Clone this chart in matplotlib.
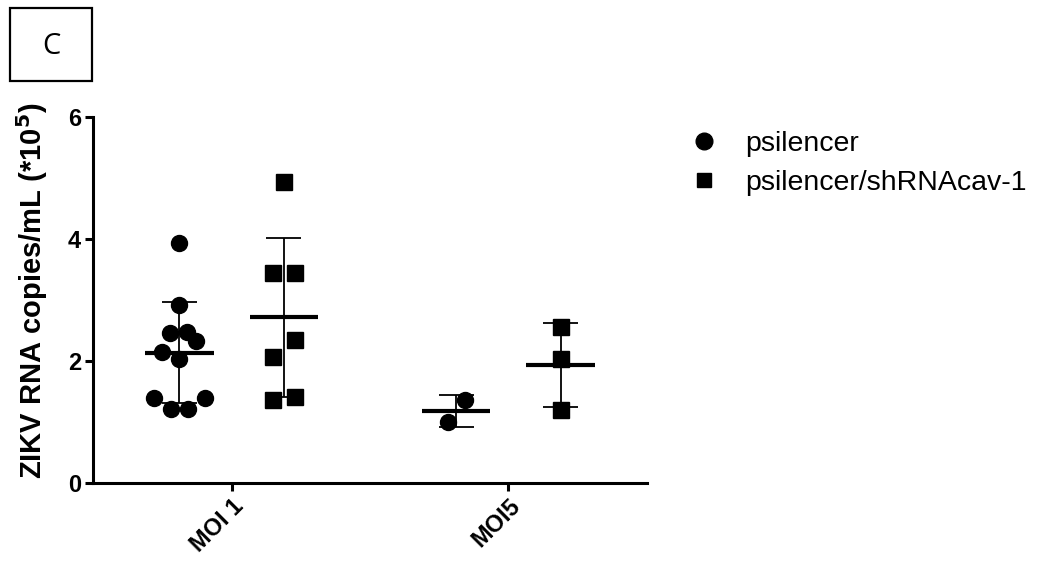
import numpy as np
import matplotlib
matplotlib.use("Agg")
import matplotlib.pyplot as plt
from matplotlib.lines import Line2D
from matplotlib.patches import Rectangle

plt.rcParams['font.family'] = ['Liberation Sans', 'DejaVu Sans']

# data (ZIKV RNA copies/mL, x10^5)
groups = ["MOI 1", "MOI5"]
series = ["psilencer", "psilencer/shRNAcav-1"]
psilencer_moi1 = [3.93, 2.91, 2.46, 2.48, 2.32, 2.14, 2.03, 1.39, 1.40, 1.22, 1.22]
psilencer_moi5 = [1.36, 1.00]
shrna_moi1 = [4.94, 3.45, 3.45, 2.34, 2.07, 1.36, 1.41]
shrna_moi5 = [2.56, 2.04, 1.20]
values = {
    "psilencer": [psilencer_moi1, psilencer_moi5],
    "psilencer/shRNAcav-1": [shrna_moi1, shrna_moi5],
}
markers = {"psilencer": "o", "psilencer/shRNAcav-1": "s"}
y_ticks = [0, 2, 4, 6]

W, H, DPI = 1043, 564, 100
fig = plt.figure(figsize=(W / DPI, H / DPI), dpi=DPI)
ax = fig.add_axes([0.0892, 0.1436, 0.5311, 0.6490])
ax.set_xlim(-0.5, 1.5)
ax.set_ylim(0, 6)

# pixel scales, used to lay the points out as a swarm
x_px = ax.get_position().width * W / 2.0
y_px = ax.get_position().height * H / 6.0


def swarm(vals, min_gap, clear):
    # rows of nearby values, spread each row symmetrically (lowest in the middle),
    # widen / shift a row until it does not overlap points already placed
    order = np.argsort(vals, kind="stable")
    v = np.asarray(vals, dtype=float)[order]
    rows, cur = [], [0]
    for i in range(1, len(v)):
        if (v[i] - v[cur[0]]) * y_px < 24:
            cur.append(i)
        else:
            rows.append(cur)
            cur = [i]
    rows.append(cur)
    placed = []
    offs = np.zeros(len(v))

    def free(xs, ys):
        for x, y in zip(xs, ys):
            for px, py in placed:
                if np.hypot(x - px, y - py) < clear:
                    return False
        return True

    for row in rows:
        n = len(row)
        ys = [v[i] * y_px for i in row]
        slots = [j - (n - 1) / 2.0 for j in range(n)]
        slots = sorted(slots, key=lambda t: (abs(t), t))
        best = None
        for s in np.arange(min_gap, min_gap + 40, 0.5):
            for c in np.arange(-30, 30.5, 0.5):
                cost = abs(c) + 0.6 * (s - min_gap)
                if best is not None and cost >= best[0]:
                    continue
                xs = [c + t * s for t in slots]
                if free(xs, ys):
                    best = (cost, xs)
        for i, x, y in zip(row, best[1], ys):
            offs[i] = x
            placed.append((x, y))
    out = np.zeros(len(v))
    out[order] = offs
    return out / x_px


shift = 0.188
for si, name in enumerate(series):
    for gi, vals in enumerate(values[name]):
        center = gi + (shift if si else -shift)
        m = np.mean(vals)
        sd = np.std(vals, ddof=1)
        ax.vlines(center, m - sd, m + sd, color="black", lw=1.3, zorder=2)
        ax.hlines([m - sd, m + sd], center - 0.062, center + 0.062, color="black", lw=1.3, zorder=2)
        ax.hlines(m, center - 0.123, center + 0.123, color="black", lw=3.0, zorder=4)
        if markers[name] == "o":
            xs = center + swarm(vals, 17, 13)
        else:
            xs = center + swarm(vals, 22, 15)
        ax.plot(xs, vals, ls="none", marker=markers[name], color="black",
                ms=11.5 if markers[name] == "o" else 11, zorder=3)

ax.set_xticks(range(len(groups)))
ax.set_xticklabels(groups, rotation=45, ha="right", rotation_mode="anchor",
                   fontsize=17, fontweight="bold")
ax.set_yticks(y_ticks)
ax.set_yticklabels([str(t) for t in y_ticks], fontsize=17, fontweight="bold")
ax.tick_params(width=2.2, length=5.5, direction="out", pad=3)
for s in ["top", "right"]:
    ax.spines[s].set_visible(False)
for s in ["left", "bottom"]:
    ax.spines[s].set_linewidth(2.2)
ax.set_ylabel(r"ZIKV RNA copies/mL (*10$^{\mathbf{5}}$)", fontsize=21, fontweight="bold")
ax.yaxis.set_label_coords(-0.077, 0.525)

handles = [Line2D([], [], ls="none", marker=markers[n], color="black",
                  ms=12 if markers[n] == "o" else 10) for n in series]
fig.legend(handles, series, loc="upper left", bbox_to_anchor=(0.6504, 0.788),
           frameon=False, fontsize=20.5, handlelength=1.0, handletextpad=0.94,
           labelspacing=0.46, borderaxespad=0)

# panel letter
fig.add_artist(Rectangle((10 / W, 1 - 81 / H), 82 / W, 73 / H, transform=fig.transFigure,
                         fill=False, lw=1.6, ec="black"))
fig.text(51 / W, 1 - 46 / H, "C", ha="center", va="center", fontsize=21, family="Open Sans")

fig.savefig("out.png", dpi=DPI)
